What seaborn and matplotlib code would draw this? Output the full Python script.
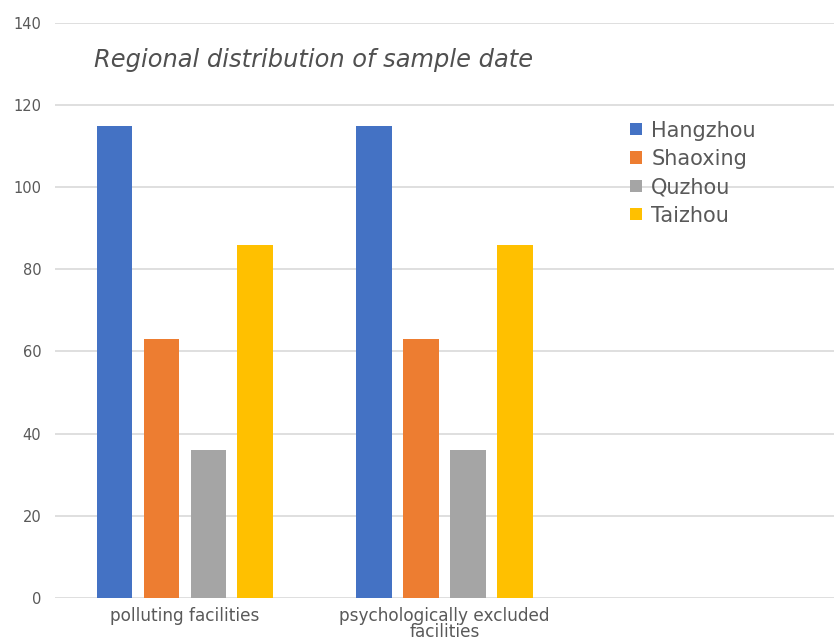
import matplotlib
matplotlib.use("Agg")
import matplotlib.pyplot as plt
import seaborn as sns
import pandas as pd
from matplotlib.patches import Patch

# Sample counts by facility type and city
categories = ["polluting facilities", "psychologically excluded\nfacilities"]
cities = ["Hangzhou", "Shaoxing", "Quzhou", "Taizhou"]
hangzhou = [115, 115]
shaoxing = [63, 63]
quzhou = [36, 36]
taizhou = [86, 86]
colors = ["#4472C4", "#ED7D31", "#A5A5A5", "#FFC000"]
yticks = [0, 20, 40, 60, 80, 100, 120, 140]

rows = []
for city, vals in zip(cities, [hangzhou, shaoxing, quzhou, taizhou]):
    for cat, v in zip(categories, vals):
        rows.append({"category": cat, "city": city, "count": v})
df = pd.DataFrame(rows)

sns.set_theme(style="white")
plt.rcParams["font.family"] = ["DejaVu Sans"]

fig = plt.figure(figsize=(8.34, 6.42), dpi=100)
ax = fig.add_axes([0.066, 0.069, 0.934, 0.895])

sns.barplot(data=df, x="category", y="count", hue="city", order=categories,
            hue_order=cities, palette=colors, width=0.723, gap=0.24,
            saturation=1, ax=ax, legend=False, errorbar=None, linewidth=0)

ax.set_xlim(-0.5, 2.5)
ax.set_ylim(0, 140)
ax.set_yticks(yticks)
ax.set_yticklabels([str(t) for t in yticks], fontsize=10.5, color="#595959")
ax.tick_params(axis="x", labelsize=12.2, labelcolor="#595959", length=0, pad=7)
ax.tick_params(axis="y", length=0, pad=10)
for lbl in ax.get_xticklabels():
    lbl.set_linespacing(0.82)
ax.set_xlabel("")
ax.set_ylabel("")
ax.yaxis.grid(True, color="#D9D9D9", linewidth=1.2)
ax.set_axisbelow(True)
for s in ax.spines.values():
    s.set_visible(False)

ax.text(0.05, 0.936, "Regional distribution of sample date", transform=ax.transAxes,
        fontsize=17.4, style="italic", color="#505050", ha="left", va="center")

handles = [Patch(facecolor=c, edgecolor="none") for c in colors]
leg = ax.legend(handles, cities, loc="upper left", bbox_to_anchor=(0.728, 0.845),
                frameon=False, fontsize=15, labelcolor="#595959",
                handlelength=0.55, handleheight=0.55, handletextpad=0.45,
                labelspacing=0.4, borderaxespad=0)

fig.savefig("out.png", dpi=100)
